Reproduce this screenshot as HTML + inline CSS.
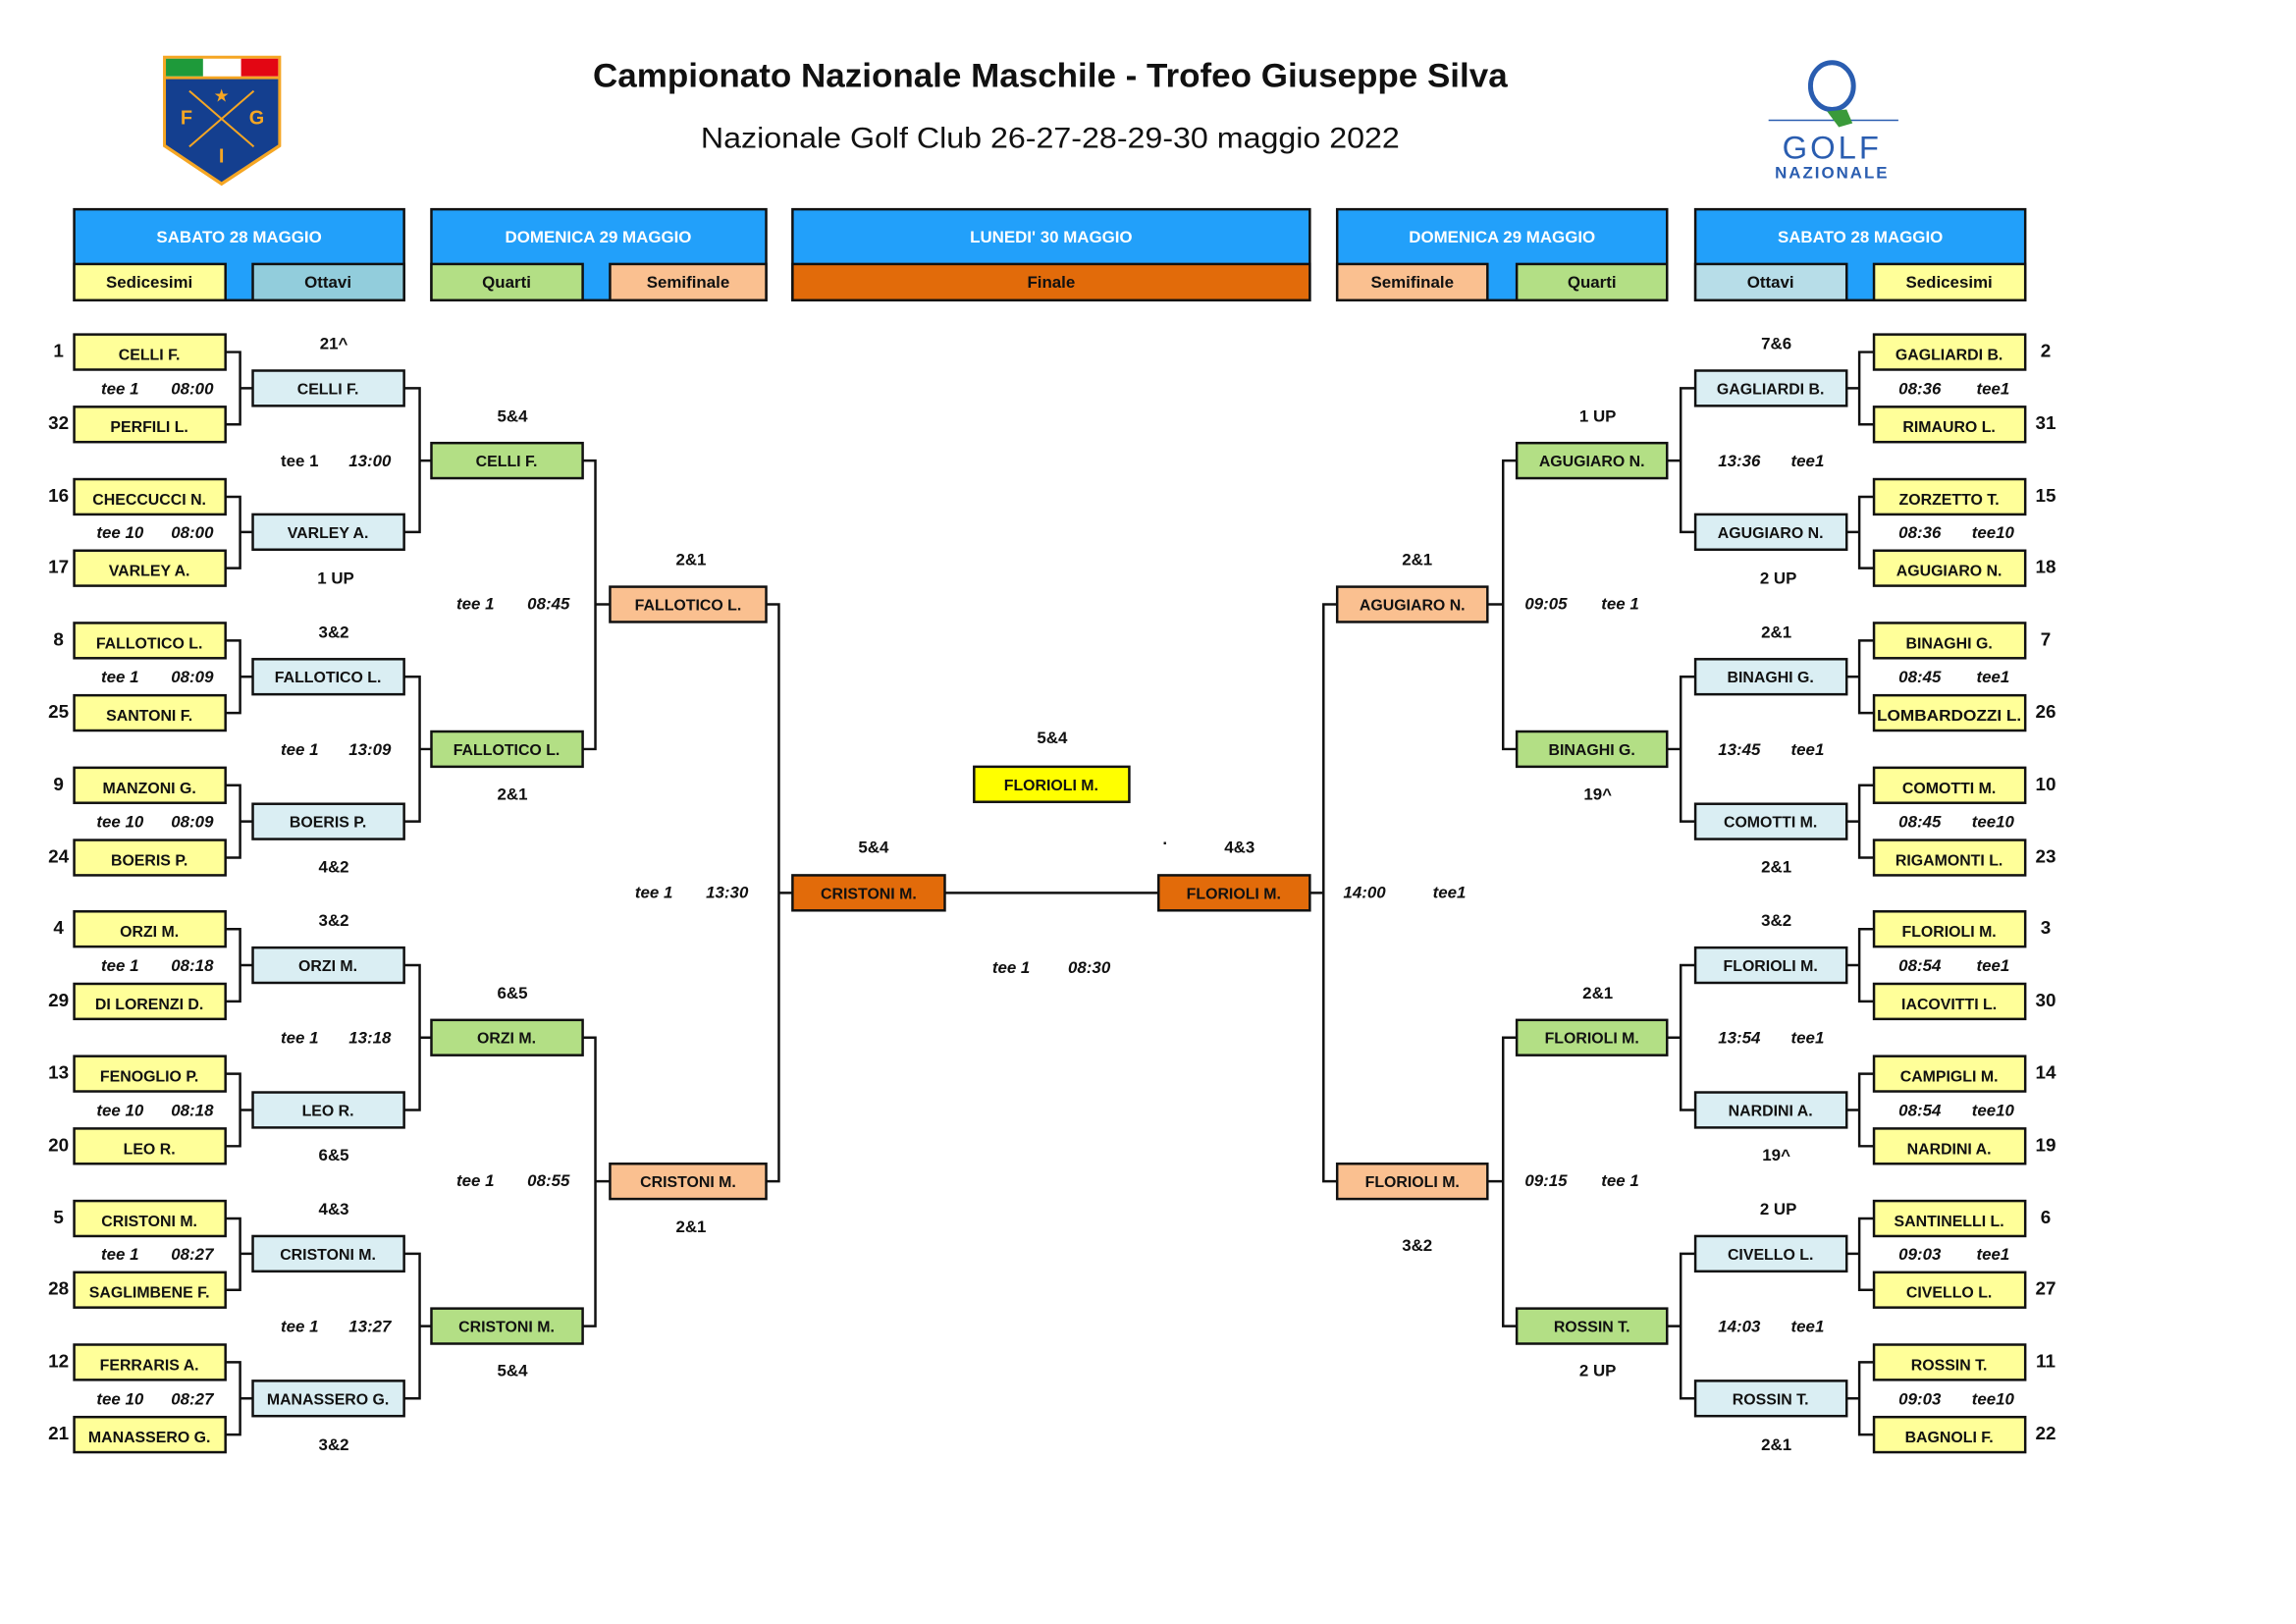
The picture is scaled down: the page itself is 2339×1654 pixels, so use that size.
<!DOCTYPE html>
<html><head><meta charset="utf-8"><style>
html,body{margin:0;padding:0;background:#fff}
svg{display:block}
text{font-family:"Liberation Sans",Arial,sans-serif}
.n{font-size:16px;font-weight:bold;text-anchor:middle;fill:#111}
.s{font-size:17px;font-weight:bold;text-anchor:middle;fill:#111}
.t{font-size:17px;font-weight:bold;font-style:italic;text-anchor:middle;fill:#111}
.sd{font-size:19px;font-weight:bold;text-anchor:middle;fill:#111}
.h{font-size:17px;font-weight:bold;text-anchor:middle;fill:#fff}
.hs{font-size:17px;font-weight:bold;text-anchor:middle;fill:#111}
.b{stroke:#111;stroke-width:2.5}
.c{stroke:#111;stroke-width:2.5;fill:none}
</style></head><body>
<svg width="2339" height="1654" viewBox="0 0 2339 1654" xmlns="http://www.w3.org/2000/svg">
<g transform="scale(0.9943,0.996)">
<!-- FIG logo -->
<g>
<path d="M167 57 H288 V150 L227 190 L167 150 Z" fill="#f5a623"/>
<path d="M170 60 H285 V78 H170 Z" fill="#fff"/>
<rect x="170" y="60" width="38" height="18" fill="#1e9a3a"/>
<rect x="247" y="60" width="38" height="18" fill="#e30613"/>
<path d="M170 81 H285 V148 L227 186 L170 148 Z" fill="#143f8f"/>
<line x1="194" y1="93" x2="260" y2="150" stroke="#f5a623" stroke-width="2"/>
<line x1="260" y1="93" x2="194" y2="150" stroke="#f5a623" stroke-width="2"/>
<text x="227" y="104" font-size="18" fill="#f5a623" text-anchor="middle">★</text>
<text x="191" y="127" font-size="20" font-weight="bold" fill="#f5a623" text-anchor="middle">F</text>
<text x="263" y="127" font-size="20" font-weight="bold" fill="#f5a623" text-anchor="middle">G</text>
<text x="227" y="166" font-size="20" font-weight="bold" fill="#f5a623" text-anchor="middle">I</text>
</g>
<!-- Golf Nazionale logo -->
<g>
<ellipse cx="1877" cy="88" rx="22" ry="24" fill="none" stroke="#2a5db0" stroke-width="5"/>
<line x1="1812" y1="123" x2="1945" y2="123" stroke="#2a5db0" stroke-width="1.5"/>
<path d="M1872 114 L1892 112 L1898 126 L1884 130 Z" fill="#3a9a3a"/>
<text x="1877" y="162" font-size="33" fill="#2a5db0" text-anchor="middle" letter-spacing="3">GOLF</text>
<text x="1877" y="182" font-size="17" font-weight="bold" fill="#2a5db0" text-anchor="middle" letter-spacing="2">NAZIONALE</text>
</g>
<!-- Titles -->
<text x="1076" y="89" font-size="34" font-weight="bold" text-anchor="middle" textLength="937" lengthAdjust="spacingAndGlyphs" fill="#111">Campionato Nazionale Maschile - Trofeo Giuseppe Silva</text>
<text x="1076" y="151" font-size="30" text-anchor="middle" textLength="716" lengthAdjust="spacingAndGlyphs" fill="#111">Nazionale Golf  Club 26-27-28-29-30 maggio 2022</text>

<!-- Headers -->
<g>
<rect x="76" y="214" width="338" height="93" fill="#22a0fa" class="b"/>
<rect x="76" y="270" width="155" height="37" fill="#ffff99" class="b"/>
<rect x="259" y="270" width="155" height="37" fill="#92cddc" class="b"/>
<text class="h" x="245" y="248">SABATO 28 MAGGIO</text>
<text class="hs" x="153" y="294">Sedicesimi</text><text class="hs" x="336" y="294">Ottavi</text>

<rect x="442" y="214" width="343" height="93" fill="#22a0fa" class="b"/>
<rect x="442" y="270" width="155" height="37" fill="#b3df85" class="b"/>
<rect x="625" y="270" width="160" height="37" fill="#fac090" class="b"/>
<text class="h" x="613" y="248">DOMENICA 29 MAGGIO</text>
<text class="hs" x="519" y="294">Quarti</text><text class="hs" x="705" y="294">Semifinale</text>

<rect x="812" y="214" width="530" height="93" fill="#22a0fa" class="b"/>
<rect x="812" y="270" width="530" height="37" fill="#e26b0a" class="b"/>
<text class="h" x="1077" y="248">LUNEDI' 30 MAGGIO</text>
<text class="hs" x="1077" y="294">Finale</text>

<rect x="1370" y="214" width="338" height="93" fill="#22a0fa" class="b"/>
<rect x="1370" y="270" width="154" height="37" fill="#fac090" class="b"/>
<rect x="1554" y="270" width="154" height="37" fill="#b3df85" class="b"/>
<text class="h" x="1539" y="248">DOMENICA 29 MAGGIO</text>
<text class="hs" x="1447" y="294">Semifinale</text><text class="hs" x="1631" y="294">Quarti</text>

<rect x="1737" y="214" width="338" height="93" fill="#22a0fa" class="b"/>
<rect x="1737" y="270" width="155" height="37" fill="#b7dde8" class="b"/>
<rect x="1920" y="270" width="155" height="37" fill="#ffff99" class="b"/>
<text class="h" x="1906" y="248">SABATO 28 MAGGIO</text>
<text class="hs" x="1814" y="294">Ottavi</text><text class="hs" x="1997" y="294">Sedicesimi</text>
</g>

<!-- Connectors -->
<path class="c" d="
M231 360 H246 V434 H231 M246 397 H259
M231 508 H246 V581 H231 M246 544 H259
M231 655 H246 V729 H231 M246 692 H259
M231 803 H246 V877 H231 M246 840 H259
M231 950 H246 V1024 H231 M246 987 H259
M231 1098 H246 V1172 H231 M246 1135 H259
M231 1246 H246 V1319 H231 M246 1282 H259
M231 1393 H246 V1467 H231 M246 1430 H259
M414 397 H430 V544 H414 M430 471 H442
M414 692 H430 V840 H414 M430 766 H442
M414 987 H430 V1135 H414 M430 1061 H442
M414 1282 H430 V1430 H414 M430 1356 H442
M597 471 H610 V766 H597 M610 618 H625
M597 1061 H610 V1356 H597 M610 1208 H625
M785 618 H798 V1208 H785 M798 913 H812
M968 913 H1187
M1342 913 H1356 M1370 618 H1356 V1208 H1370
M1524 618 H1540 M1554 471 H1540 V766 H1554
M1524 1208 H1540 M1554 1061 H1540 V1356 H1554
M1708 471 H1722 M1737 397 H1722 V544 H1737
M1708 766 H1722 M1737 692 H1722 V840 H1737
M1708 1061 H1722 M1737 987 H1722 V1135 H1737
M1708 1356 H1722 M1737 1282 H1722 V1430 H1737
M1892 397 H1905 M1920 360 H1905 V434 H1920
M1892 544 H1905 M1920 508 H1905 V581 H1920
M1892 692 H1905 M1920 655 H1905 V729 H1920
M1892 840 H1905 M1920 803 H1905 V877 H1920
M1892 987 H1905 M1920 950 H1905 V1024 H1920
M1892 1135 H1905 M1920 1098 H1905 V1172 H1920
M1892 1282 H1905 M1920 1246 H1905 V1319 H1920
M1892 1430 H1905 M1920 1393 H1905 V1467 H1920
"/>

<!-- Left sedicesimi -->
<g fill="#ffff99" class="b">
<rect x="76" y="342" width="155" height="36"/><rect x="76" y="416" width="155" height="36"/>
<rect x="76" y="490" width="155" height="36"/><rect x="76" y="563" width="155" height="36"/>
<rect x="76" y="637" width="155" height="36"/><rect x="76" y="711" width="155" height="36"/>
<rect x="76" y="785" width="155" height="36"/><rect x="76" y="859" width="155" height="36"/>
<rect x="76" y="932" width="155" height="36"/><rect x="76" y="1006" width="155" height="36"/>
<rect x="76" y="1080" width="155" height="36"/><rect x="76" y="1154" width="155" height="36"/>
<rect x="76" y="1228" width="155" height="36"/><rect x="76" y="1301" width="155" height="36"/>
<rect x="76" y="1375" width="155" height="36"/><rect x="76" y="1449" width="155" height="36"/>
</g>
<g>
<text class="n" x="153" y="368">CELLI F.</text><text class="n" x="153" y="442">PERFILI L.</text>
<text class="n" x="153" y="516">CHECCUCCI N.</text><text class="n" x="153" y="589">VARLEY A.</text>
<text class="n" x="153" y="663">FALLOTICO L.</text><text class="n" x="153" y="737">SANTONI F.</text>
<text class="n" x="153" y="811">MANZONI G.</text><text class="n" x="153" y="885">BOERIS P.</text>
<text class="n" x="153" y="958">ORZI M.</text><text class="n" x="153" y="1032">DI LORENZI D.</text>
<text class="n" x="153" y="1106">FENOGLIO P.</text><text class="n" x="153" y="1180">LEO R.</text>
<text class="n" x="153" y="1254">CRISTONI M.</text><text class="n" x="153" y="1327">SAGLIMBENE F.</text>
<text class="n" x="153" y="1401">FERRARIS A.</text><text class="n" x="153" y="1475">MANASSERO G.</text>
</g>
<g>
<text class="sd" x="60" y="365">1</text><text class="sd" x="60" y="439">32</text>
<text class="sd" x="60" y="513">16</text><text class="sd" x="60" y="586">17</text>
<text class="sd" x="60" y="660">8</text><text class="sd" x="60" y="734">25</text>
<text class="sd" x="60" y="808">9</text><text class="sd" x="60" y="882">24</text>
<text class="sd" x="60" y="955">4</text><text class="sd" x="60" y="1029">29</text>
<text class="sd" x="60" y="1103">13</text><text class="sd" x="60" y="1177">20</text>
<text class="sd" x="60" y="1251">5</text><text class="sd" x="60" y="1324">28</text>
<text class="sd" x="60" y="1398">12</text><text class="sd" x="60" y="1472">21</text>
</g>
<g>
<text class="t" x="123" y="403">tee 1</text><text class="t" x="197" y="403">08:00</text>
<text class="t" x="123" y="550">tee 10</text><text class="t" x="197" y="550">08:00</text>
<text class="t" x="123" y="698">tee 1</text><text class="t" x="197" y="698">08:09</text>
<text class="t" x="123" y="846">tee 10</text><text class="t" x="197" y="846">08:09</text>
<text class="t" x="123" y="993">tee 1</text><text class="t" x="197" y="993">08:18</text>
<text class="t" x="123" y="1141">tee 10</text><text class="t" x="197" y="1141">08:18</text>
<text class="t" x="123" y="1288">tee 1</text><text class="t" x="197" y="1288">08:27</text>
<text class="t" x="123" y="1436">tee 10</text><text class="t" x="197" y="1436">08:27</text>
</g>

<!-- Left ottavi -->
<g fill="#daeef3" class="b">
<rect x="259" y="379" width="155" height="36"/><rect x="259" y="526" width="155" height="36"/>
<rect x="259" y="674" width="155" height="36"/><rect x="259" y="822" width="155" height="36"/>
<rect x="259" y="969" width="155" height="36"/><rect x="259" y="1117" width="155" height="36"/>
<rect x="259" y="1264" width="155" height="36"/><rect x="259" y="1412" width="155" height="36"/>
</g>
<g>
<text class="n" x="336" y="403">CELLI F.</text><text class="n" x="336" y="550">VARLEY A.</text>
<text class="n" x="336" y="698">FALLOTICO L.</text><text class="n" x="336" y="846">BOERIS P.</text>
<text class="n" x="336" y="993">ORZI M.</text><text class="n" x="336" y="1141">LEO R.</text>
<text class="n" x="336" y="1288">CRISTONI M.</text><text class="n" x="336" y="1436">MANASSERO G.</text>
<text class="s" x="342" y="357">21^</text><text class="s" x="344" y="597">1 UP</text>
<text class="s" x="342" y="652">3&amp;2</text><text class="s" x="342" y="892">4&amp;2</text>
<text class="s" x="342" y="947">3&amp;2</text><text class="s" x="342" y="1187">6&amp;5</text>
<text class="s" x="342" y="1242">4&amp;3</text><text class="s" x="342" y="1483">3&amp;2</text>
<text class="s" x="307" y="477">tee 1</text><text class="t" x="379" y="477">13:00</text>
<text class="t" x="307" y="772">tee 1</text><text class="t" x="379" y="772">13:09</text>
<text class="t" x="307" y="1067">tee 1</text><text class="t" x="379" y="1067">13:18</text>
<text class="t" x="307" y="1362">tee 1</text><text class="t" x="379" y="1362">13:27</text>
</g>

<!-- Left quarti -->
<g fill="#b3df85" class="b">
<rect x="442" y="453" width="155" height="36"/><rect x="442" y="748" width="155" height="36"/>
<rect x="442" y="1043" width="155" height="36"/><rect x="442" y="1338" width="155" height="36"/>
</g>
<g>
<text class="n" x="519" y="477">CELLI F.</text><text class="n" x="519" y="772">FALLOTICO L.</text>
<text class="n" x="519" y="1067">ORZI M.</text><text class="n" x="519" y="1362">CRISTONI M.</text>
<text class="s" x="525" y="431">5&amp;4</text><text class="s" x="525" y="818">2&amp;1</text>
<text class="s" x="525" y="1021">6&amp;5</text><text class="s" x="525" y="1407">5&amp;4</text>
<text class="t" x="487" y="623">tee 1</text><text class="t" x="562" y="623">08:45</text>
<text class="t" x="487" y="1213">tee 1</text><text class="t" x="562" y="1213">08:55</text>
</g>

<!-- Left semi -->
<g fill="#fac090" class="b">
<rect x="625" y="600" width="160" height="36"/><rect x="625" y="1190" width="160" height="36"/>
</g>
<text class="n" x="705" y="624">FALLOTICO L.</text><text class="n" x="705" y="1214">CRISTONI M.</text>
<text class="s" x="708" y="578">2&amp;1</text><text class="s" x="708" y="1260">2&amp;1</text>
<text class="t" x="670" y="918">tee 1</text><text class="t" x="745" y="918">13:30</text>

<!-- Final -->
<g class="b">
<rect x="812" y="895" width="156" height="36" fill="#e26b0a"/>
<rect x="1187" y="895" width="155" height="36" fill="#e26b0a"/>
<rect x="998" y="784" width="159" height="36" fill="#ffff00"/>
</g>
<text class="n" x="890" y="919">CRISTONI M.</text><text class="n" x="1264" y="919">FLORIOLI M.</text>
<text class="n" x="1077" y="808">FLORIOLI M.</text>
<text class="s" x="1078" y="760">5&amp;4</text>
<text class="s" x="895" y="872">5&amp;4</text><text class="s" x="1270" y="872">4&amp;3</text>
<text class="s" x="1194" y="868">·</text>
<text class="t" x="1036" y="995">tee 1</text><text class="t" x="1116" y="995">08:30</text>

<!-- Right semi -->
<g fill="#fac090" class="b">
<rect x="1370" y="600" width="154" height="36"/><rect x="1370" y="1190" width="154" height="36"/>
</g>
<text class="n" x="1447" y="624">AGUGIARO N.</text><text class="n" x="1447" y="1214">FLORIOLI M.</text>
<text class="s" x="1452" y="578">2&amp;1</text><text class="s" x="1452" y="1279">3&amp;2</text>
<text class="t" x="1398" y="918">14:00</text><text class="t" x="1485" y="918">tee1</text>

<!-- Right quarti -->
<g fill="#b3df85" class="b">
<rect x="1554" y="453" width="154" height="36"/><rect x="1554" y="748" width="154" height="36"/>
<rect x="1554" y="1043" width="154" height="36"/><rect x="1554" y="1338" width="154" height="36"/>
</g>
<g>
<text class="n" x="1631" y="477">AGUGIARO N.</text><text class="n" x="1631" y="772">BINAGHI G.</text>
<text class="n" x="1631" y="1067">FLORIOLI M.</text><text class="n" x="1631" y="1362">ROSSIN T.</text>
<text class="s" x="1637" y="431">1 UP</text><text class="s" x="1637" y="818">19^</text>
<text class="s" x="1637" y="1021">2&amp;1</text><text class="s" x="1637" y="1407">2 UP</text>
<text class="t" x="1584" y="623">09:05</text><text class="t" x="1660" y="623">tee 1</text>
<text class="t" x="1584" y="1213">09:15</text><text class="t" x="1660" y="1213">tee 1</text>
</g>

<!-- Right ottavi -->
<g fill="#daeef3" class="b">
<rect x="1737" y="379" width="155" height="36"/><rect x="1737" y="526" width="155" height="36"/>
<rect x="1737" y="674" width="155" height="36"/><rect x="1737" y="822" width="155" height="36"/>
<rect x="1737" y="969" width="155" height="36"/><rect x="1737" y="1117" width="155" height="36"/>
<rect x="1737" y="1264" width="155" height="36"/><rect x="1737" y="1412" width="155" height="36"/>
</g>
<g>
<text class="n" x="1814" y="403">GAGLIARDI B.</text><text class="n" x="1814" y="550">AGUGIARO N.</text>
<text class="n" x="1814" y="698">BINAGHI G.</text><text class="n" x="1814" y="846">COMOTTI M.</text>
<text class="n" x="1814" y="993">FLORIOLI M.</text><text class="n" x="1814" y="1141">NARDINI A.</text>
<text class="n" x="1814" y="1288">CIVELLO L.</text><text class="n" x="1814" y="1436">ROSSIN T.</text>
<text class="s" x="1820" y="357">7&amp;6</text><text class="s" x="1822" y="597">2 UP</text>
<text class="s" x="1820" y="652">2&amp;1</text><text class="s" x="1820" y="892">2&amp;1</text>
<text class="s" x="1820" y="947">3&amp;2</text><text class="s" x="1820" y="1187">19^</text>
<text class="s" x="1822" y="1242">2 UP</text><text class="s" x="1820" y="1483">2&amp;1</text>
<text class="t" x="1782" y="477">13:36</text><text class="t" x="1852" y="477">tee1</text>
<text class="t" x="1782" y="772">13:45</text><text class="t" x="1852" y="772">tee1</text>
<text class="t" x="1782" y="1067">13:54</text><text class="t" x="1852" y="1067">tee1</text>
<text class="t" x="1782" y="1362">14:03</text><text class="t" x="1852" y="1362">tee1</text>
</g>

<!-- Right sedicesimi -->
<g fill="#ffff99" class="b">
<rect x="1920" y="342" width="155" height="36"/><rect x="1920" y="416" width="155" height="36"/>
<rect x="1920" y="490" width="155" height="36"/><rect x="1920" y="563" width="155" height="36"/>
<rect x="1920" y="637" width="155" height="36"/><rect x="1920" y="711" width="155" height="36"/>
<rect x="1920" y="785" width="155" height="36"/><rect x="1920" y="859" width="155" height="36"/>
<rect x="1920" y="932" width="155" height="36"/><rect x="1920" y="1006" width="155" height="36"/>
<rect x="1920" y="1080" width="155" height="36"/><rect x="1920" y="1154" width="155" height="36"/>
<rect x="1920" y="1228" width="155" height="36"/><rect x="1920" y="1301" width="155" height="36"/>
<rect x="1920" y="1375" width="155" height="36"/><rect x="1920" y="1449" width="155" height="36"/>
</g>
<g>
<text class="n" x="1997" y="368">GAGLIARDI B.</text><text class="n" x="1997" y="442">RIMAURO L.</text>
<text class="n" x="1997" y="516">ZORZETTO T.</text><text class="n" x="1997" y="589">AGUGIARO N.</text>
<text class="n" x="1997" y="663">BINAGHI G.</text><text class="n" x="1997" y="737" textLength="148" lengthAdjust="spacingAndGlyphs">LOMBARDOZZI L.</text>
<text class="n" x="1997" y="811">COMOTTI M.</text><text class="n" x="1997" y="885">RIGAMONTI L.</text>
<text class="n" x="1997" y="958">FLORIOLI M.</text><text class="n" x="1997" y="1032">IACOVITTI L.</text>
<text class="n" x="1997" y="1106">CAMPIGLI M.</text><text class="n" x="1997" y="1180">NARDINI A.</text>
<text class="n" x="1997" y="1254">SANTINELLI L.</text><text class="n" x="1997" y="1327">CIVELLO L.</text>
<text class="n" x="1997" y="1401">ROSSIN T.</text><text class="n" x="1997" y="1475">BAGNOLI F.</text>
</g>
<g>
<text class="sd" x="2096" y="365">2</text><text class="sd" x="2096" y="439">31</text>
<text class="sd" x="2096" y="513">15</text><text class="sd" x="2096" y="586">18</text>
<text class="sd" x="2096" y="660">7</text><text class="sd" x="2096" y="734">26</text>
<text class="sd" x="2096" y="808">10</text><text class="sd" x="2096" y="882">23</text>
<text class="sd" x="2096" y="955">3</text><text class="sd" x="2096" y="1029">30</text>
<text class="sd" x="2096" y="1103">14</text><text class="sd" x="2096" y="1177">19</text>
<text class="sd" x="2096" y="1251">6</text><text class="sd" x="2096" y="1324">27</text>
<text class="sd" x="2096" y="1398">11</text><text class="sd" x="2096" y="1472">22</text>
</g>
<g>
<text class="t" x="1967" y="403">08:36</text><text class="t" x="2042" y="403">tee1</text>
<text class="t" x="1967" y="550">08:36</text><text class="t" x="2042" y="550">tee10</text>
<text class="t" x="1967" y="698">08:45</text><text class="t" x="2042" y="698">tee1</text>
<text class="t" x="1967" y="846">08:45</text><text class="t" x="2042" y="846">tee10</text>
<text class="t" x="1967" y="993">08:54</text><text class="t" x="2042" y="993">tee1</text>
<text class="t" x="1967" y="1141">08:54</text><text class="t" x="2042" y="1141">tee10</text>
<text class="t" x="1967" y="1288">09:03</text><text class="t" x="2042" y="1288">tee1</text>
<text class="t" x="1967" y="1436">09:03</text><text class="t" x="2042" y="1436">tee10</text>
</g>
</g>
</svg>
</body></html>
